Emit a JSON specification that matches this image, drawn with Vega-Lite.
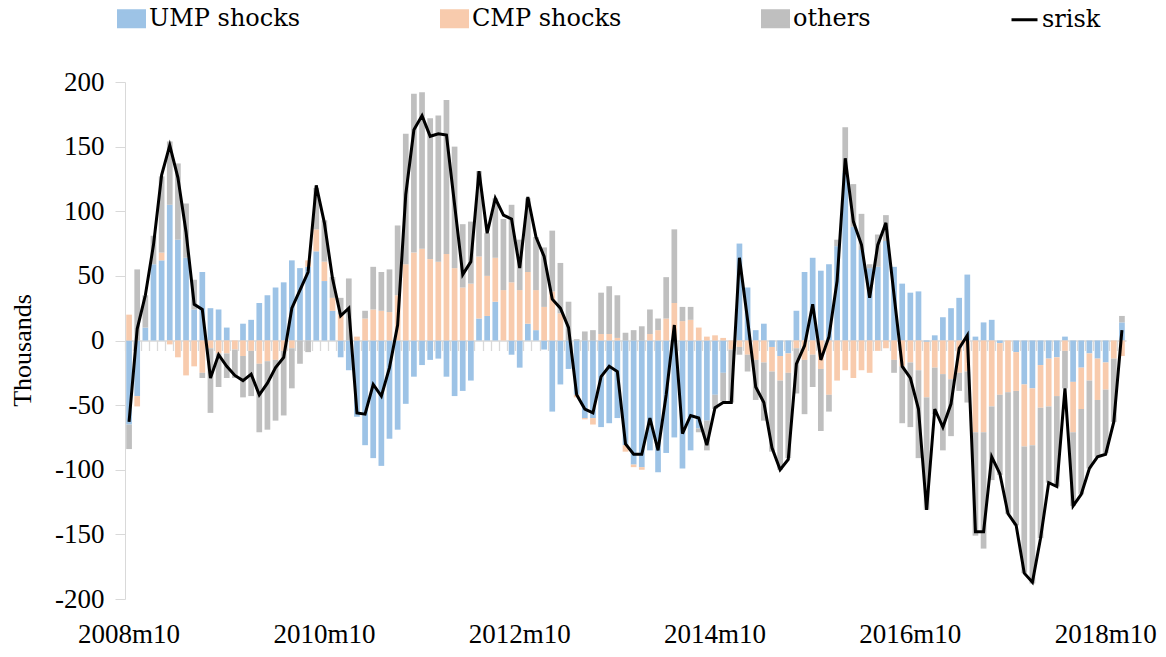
{
  "$schema": "https://vega.github.io/schema/vega-lite/v6.json",
  "width": 1001,
  "height": 517,
  "autosize": {"type": "none"},
  "padding": {"left": 125, "top": 82, "right": 40, "bottom": 58},
  "background": "white",
  "config": {
    "view": {"stroke": null},
    "font": "Liberation Serif"
  },
  "data": {
    "values": [
      {"m": "2008m10", "UMP shocks": -65, "CMP shocks": 20, "others": -19, "srisk": -63},
      {"m": "2008m11", "UMP shocks": -43, "CMP shocks": -8, "others": 55, "srisk": 9},
      {"m": "2008m12", "UMP shocks": 10, "CMP shocks": 0, "others": 25, "srisk": 35},
      {"m": "2009m1", "UMP shocks": 59, "CMP shocks": 0, "others": 22, "srisk": 74},
      {"m": "2009m2", "UMP shocks": 62, "CMP shocks": 6, "others": 59, "srisk": 128},
      {"m": "2009m3", "UMP shocks": 105, "CMP shocks": -3, "others": 49, "srisk": 151},
      {"m": "2009m4", "UMP shocks": 78, "CMP shocks": -13, "others": 59, "srisk": 126},
      {"m": "2009m5", "UMP shocks": 64, "CMP shocks": -27, "others": 42, "srisk": 84},
      {"m": "2009m6", "UMP shocks": 24, "CMP shocks": -20, "others": 23, "srisk": 28},
      {"m": "2009m7", "UMP shocks": 53, "CMP shocks": -25, "others": -4, "srisk": 24},
      {"m": "2009m8", "UMP shocks": 25, "CMP shocks": -6, "others": -50, "srisk": -29},
      {"m": "2009m9", "UMP shocks": 24, "CMP shocks": -10, "others": -26, "srisk": -11},
      {"m": "2009m10", "UMP shocks": 10, "CMP shocks": -10, "others": -19, "srisk": -20},
      {"m": "2009m11", "UMP shocks": 0, "CMP shocks": -7, "others": -22, "srisk": -27},
      {"m": "2009m12", "UMP shocks": 13, "CMP shocks": -12, "others": -32, "srisk": -31},
      {"m": "2010m1", "UMP shocks": 16, "CMP shocks": -8, "others": -35, "srisk": -26},
      {"m": "2010m2", "UMP shocks": 29, "CMP shocks": -18, "others": -53, "srisk": -42},
      {"m": "2010m3", "UMP shocks": 35, "CMP shocks": -16, "others": -53, "srisk": -33},
      {"m": "2010m4", "UMP shocks": 41, "CMP shocks": -15, "others": -47, "srisk": -21},
      {"m": "2010m5", "UMP shocks": 45, "CMP shocks": -8, "others": -50, "srisk": -13},
      {"m": "2010m6", "UMP shocks": 62, "CMP shocks": -6, "others": -31, "srisk": 25},
      {"m": "2010m7", "UMP shocks": 56, "CMP shocks": 0, "others": -18, "srisk": 39},
      {"m": "2010m8", "UMP shocks": 57, "CMP shocks": 5, "others": -9, "srisk": 53},
      {"m": "2010m9", "UMP shocks": 69, "CMP shocks": 17, "others": 32, "srisk": 120},
      {"m": "2010m10", "UMP shocks": 46, "CMP shocks": 15, "others": 32, "srisk": 91},
      {"m": "2010m11", "UMP shocks": 23, "CMP shocks": 10, "others": 16, "srisk": 48},
      {"m": "2010m12", "UMP shocks": -13, "CMP shocks": 20, "others": 13, "srisk": 19},
      {"m": "2011m1", "UMP shocks": -23, "CMP shocks": 0, "others": 48, "srisk": 25},
      {"m": "2011m2", "UMP shocks": -59, "CMP shocks": 3, "others": 0, "srisk": -56},
      {"m": "2011m3", "UMP shocks": -81, "CMP shocks": 17, "others": 6, "srisk": -57},
      {"m": "2011m4", "UMP shocks": -91, "CMP shocks": 24, "others": 33, "srisk": -34},
      {"m": "2011m5", "UMP shocks": -97, "CMP shocks": 23, "others": 30, "srisk": -43},
      {"m": "2011m6", "UMP shocks": -76, "CMP shocks": 22, "others": 33, "srisk": -21},
      {"m": "2011m7", "UMP shocks": -69, "CMP shocks": 35, "others": 54, "srisk": 12},
      {"m": "2011m8", "UMP shocks": -49, "CMP shocks": 59, "others": 101, "srisk": 113},
      {"m": "2011m9", "UMP shocks": -28, "CMP shocks": 68, "others": 123, "srisk": 163},
      {"m": "2011m10", "UMP shocks": -19, "CMP shocks": 71, "others": 121, "srisk": 174},
      {"m": "2011m11", "UMP shocks": -15, "CMP shocks": 63, "others": 109, "srisk": 158},
      {"m": "2011m12", "UMP shocks": -14, "CMP shocks": 61, "others": 113, "srisk": 160},
      {"m": "2012m1", "UMP shocks": -28, "CMP shocks": 67, "others": 119, "srisk": 159},
      {"m": "2012m2", "UMP shocks": -43, "CMP shocks": 56, "others": 94, "srisk": 105},
      {"m": "2012m3", "UMP shocks": -39, "CMP shocks": 41, "others": 49, "srisk": 51},
      {"m": "2012m4", "UMP shocks": -31, "CMP shocks": 44, "others": 48, "srisk": 61},
      {"m": "2012m5", "UMP shocks": 17, "CMP shocks": 48, "others": 66, "srisk": 131},
      {"m": "2012m6", "UMP shocks": 19, "CMP shocks": 31, "others": 33, "srisk": 83},
      {"m": "2012m7", "UMP shocks": 30, "CMP shocks": 34, "others": 46, "srisk": 110},
      {"m": "2012m8", "UMP shocks": 0, "CMP shocks": 39, "others": 55, "srisk": 97},
      {"m": "2012m9", "UMP shocks": -11, "CMP shocks": 45, "others": 60, "srisk": 94},
      {"m": "2012m10", "UMP shocks": -21, "CMP shocks": 39, "others": 39, "srisk": 56},
      {"m": "2012m11", "UMP shocks": 13, "CMP shocks": 40, "others": 57, "srisk": 111},
      {"m": "2012m12", "UMP shocks": 8, "CMP shocks": 31, "others": 41, "srisk": 80},
      {"m": "2013m1", "UMP shocks": -7, "CMP shocks": 26, "others": 46, "srisk": 65},
      {"m": "2013m2", "UMP shocks": -55, "CMP shocks": 38, "others": 47, "srisk": 32},
      {"m": "2013m3", "UMP shocks": -34, "CMP shocks": 21, "others": 39, "srisk": 25},
      {"m": "2013m4", "UMP shocks": -22, "CMP shocks": 0, "others": 30, "srisk": 10},
      {"m": "2013m5", "UMP shocks": -42, "CMP shocks": -2, "others": 1, "srisk": -42},
      {"m": "2013m6", "UMP shocks": -60, "CMP shocks": -1, "others": 7, "srisk": -53},
      {"m": "2013m7", "UMP shocks": -60, "CMP shocks": -5, "others": 8, "srisk": -56},
      {"m": "2013m8", "UMP shocks": -67, "CMP shocks": 5, "others": 32, "srisk": -28},
      {"m": "2013m9", "UMP shocks": -64, "CMP shocks": 5, "others": 37, "srisk": -20},
      {"m": "2013m10", "UMP shocks": -60, "CMP shocks": 2, "others": 33, "srisk": -24},
      {"m": "2013m11", "UMP shocks": -81, "CMP shocks": -5, "others": 6, "srisk": -80},
      {"m": "2013m12", "UMP shocks": -96, "CMP shocks": -2, "others": 8, "srisk": -88},
      {"m": "2014m1", "UMP shocks": -98, "CMP shocks": -2, "others": 11, "srisk": -88},
      {"m": "2014m2", "UMP shocks": -85, "CMP shocks": 5, "others": 19, "srisk": -60},
      {"m": "2014m3", "UMP shocks": -102, "CMP shocks": 8, "others": 9, "srisk": -85},
      {"m": "2014m4", "UMP shocks": -87, "CMP shocks": 17, "others": 32, "srisk": -42},
      {"m": "2014m5", "UMP shocks": -75, "CMP shocks": 29, "others": 57, "srisk": 12},
      {"m": "2014m6", "UMP shocks": -99, "CMP shocks": 15, "others": 11, "srisk": -72},
      {"m": "2014m7", "UMP shocks": -85, "CMP shocks": 16, "others": 10, "srisk": -58},
      {"m": "2014m8", "UMP shocks": -68, "CMP shocks": 10, "others": -3, "srisk": -60},
      {"m": "2014m9", "UMP shocks": -62, "CMP shocks": 3, "others": -23, "srisk": -81},
      {"m": "2014m10", "UMP shocks": -42, "CMP shocks": 4, "others": -11, "srisk": -52},
      {"m": "2014m11", "UMP shocks": -25, "CMP shocks": 2, "others": -22, "srisk": -48},
      {"m": "2014m12", "UMP shocks": 0, "CMP shocks": -7, "others": -41, "srisk": -48},
      {"m": "2015m1", "UMP shocks": 75, "CMP shocks": -5, "others": -6, "srisk": 64},
      {"m": "2015m2", "UMP shocks": 41, "CMP shocks": -11, "others": -13, "srisk": 16},
      {"m": "2015m3", "UMP shocks": 8, "CMP shocks": -15, "others": -31, "srisk": -36},
      {"m": "2015m4", "UMP shocks": 13, "CMP shocks": -17, "others": -45, "srisk": -48},
      {"m": "2015m5", "UMP shocks": -5, "CMP shocks": -19, "others": -62, "srisk": -83},
      {"m": "2015m6", "UMP shocks": -12, "CMP shocks": -19, "others": -69, "srisk": -100},
      {"m": "2015m7", "UMP shocks": -10, "CMP shocks": -15, "others": -66, "srisk": -92},
      {"m": "2015m8", "UMP shocks": 23, "CMP shocks": -6, "others": -35, "srisk": -18},
      {"m": "2015m9", "UMP shocks": 53, "CMP shocks": -15, "others": -42, "srisk": -4},
      {"m": "2015m10", "UMP shocks": 64, "CMP shocks": -11, "others": -25, "srisk": 28},
      {"m": "2015m11", "UMP shocks": 54, "CMP shocks": -22, "others": -48, "srisk": -15},
      {"m": "2015m12", "UMP shocks": 59, "CMP shocks": -42, "others": -13, "srisk": 3},
      {"m": "2016m1", "UMP shocks": 73, "CMP shocks": -31, "others": 5, "srisk": 46},
      {"m": "2016m2", "UMP shocks": 130, "CMP shocks": -23, "others": 35, "srisk": 141},
      {"m": "2016m3", "UMP shocks": 88, "CMP shocks": -29, "others": 33, "srisk": 92},
      {"m": "2016m4", "UMP shocks": 70, "CMP shocks": -23, "others": 28, "srisk": 74},
      {"m": "2016m5", "UMP shocks": 56, "CMP shocks": -25, "others": 3, "srisk": 33},
      {"m": "2016m6", "UMP shocks": 57, "CMP shocks": -8, "others": 25, "srisk": 74},
      {"m": "2016m7", "UMP shocks": 77, "CMP shocks": -6, "others": 20, "srisk": 91},
      {"m": "2016m8", "UMP shocks": 57, "CMP shocks": -15, "others": -10, "srisk": 35},
      {"m": "2016m9", "UMP shocks": 44, "CMP shocks": -20, "others": -44, "srisk": -20},
      {"m": "2016m10", "UMP shocks": 37, "CMP shocks": -17, "others": -50, "srisk": -29},
      {"m": "2016m11", "UMP shocks": 38, "CMP shocks": -23, "others": -68, "srisk": -53},
      {"m": "2016m12", "UMP shocks": -1, "CMP shocks": -43, "others": -87, "srisk": -131},
      {"m": "2017m1", "UMP shocks": 4, "CMP shocks": -21, "others": -36, "srisk": -53},
      {"m": "2017m2", "UMP shocks": 18, "CMP shocks": -26, "others": -59, "srisk": -67},
      {"m": "2017m3", "UMP shocks": 25, "CMP shocks": -30, "others": -44, "srisk": -49},
      {"m": "2017m4", "UMP shocks": 33, "CMP shocks": -25, "others": -14, "srisk": -6},
      {"m": "2017m5", "UMP shocks": 51, "CMP shocks": -24, "others": -24, "srisk": 4},
      {"m": "2017m6", "UMP shocks": 3, "CMP shocks": -71, "others": -80, "srisk": -148},
      {"m": "2017m7", "UMP shocks": 14, "CMP shocks": -71, "others": -90, "srisk": -148},
      {"m": "2017m8", "UMP shocks": 16, "CMP shocks": -51, "others": -57, "srisk": -90},
      {"m": "2017m9", "UMP shocks": -2, "CMP shocks": -40, "others": -62, "srisk": -103},
      {"m": "2017m10", "UMP shocks": 0, "CMP shocks": -40, "others": -94, "srisk": -134},
      {"m": "2017m11", "UMP shocks": -9, "CMP shocks": -30, "others": -104, "srisk": -143},
      {"m": "2017m12", "UMP shocks": -34, "CMP shocks": -48, "others": -98, "srisk": -180},
      {"m": "2018m1", "UMP shocks": -37, "CMP shocks": -44, "others": -107, "srisk": -187},
      {"m": "2018m2", "UMP shocks": -19, "CMP shocks": -33, "others": -101, "srisk": -153},
      {"m": "2018m3", "UMP shocks": -14, "CMP shocks": -37, "others": -59, "srisk": -110},
      {"m": "2018m4", "UMP shocks": -13, "CMP shocks": -30, "others": -70, "srisk": -113},
      {"m": "2018m5", "UMP shocks": 3, "CMP shocks": -8, "others": -29, "srisk": -37},
      {"m": "2018m6", "UMP shocks": -32, "CMP shocks": -39, "others": -57, "srisk": -128},
      {"m": "2018m7", "UMP shocks": -21, "CMP shocks": -32, "others": -66, "srisk": -119},
      {"m": "2018m8", "UMP shocks": -10, "CMP shocks": -21, "others": -68, "srisk": -99},
      {"m": "2018m9", "UMP shocks": -14, "CMP shocks": -32, "others": -44, "srisk": -90},
      {"m": "2018m10", "UMP shocks": -17, "CMP shocks": -21, "others": -49, "srisk": -88},
      {"m": "2018m11", "UMP shocks": 0, "CMP shocks": -14, "others": -49, "srisk": -63},
      {"m": "2018m12", "UMP shocks": 14, "CMP shocks": -12, "others": 5, "srisk": 8}
    ]
  },
  "layer": [
    {
      "transform": [{"fold": ["UMP shocks", "CMP shocks", "others"], "as": ["series", "value"]}],
      "mark": {"type": "bar"},
      "encoding": {
        "x": {
          "field": "m",
          "type": "ordinal",
          "sort": null,
          "scale": {"paddingInner": 0.3, "paddingOuter": 0.15},
          "axis": {
            "title": null,
            "orient": "bottom",
            "offset": -258.5,
            "domainColor": "#d9d9d9",
            "domainWidth": 1.5,
            "tickColor": "#d9d9d9",
            "tickSize": 10,
            "tickWidth": 1.3,
            "bandPosition": -0.21,
            "labelOffset": 0,
            "labelAngle": 0,
            "labelOverlap": false,
            "labelPadding": 271,
            "labelBaseline": "top",
            "labelFont": "Liberation Serif",
            "labelFontSize": 27,
            "labelColor": "black",
            "labelExpr": "indexof(['2008m10','2010m10','2012m10','2014m10','2016m10','2018m10'], datum.value) >= 0 ? datum.value : ''"
          }
        },
        "y": {
          "field": "value",
          "type": "quantitative",
          "stack": "zero",
          "scale": {"domain": [-200, 200], "nice": false},
          "axis": {
            "title": "Thousands",
            "values": [-200, -150, -100, -50, 0, 50, 100, 150, 200],
            "grid": false,
            "domainColor": "#d9d9d9",
            "domainWidth": 1,
            "tickColor": "#d9d9d9",
            "tickSize": 10,
            "labelPadding": 11,
            "labelFont": "Liberation Serif",
            "labelFontSize": 27,
            "labelColor": "black",
            "labelExpr": "datum.value < 0 ? '-' + abs(datum.value) : '' + datum.value",
            "titleFont": "Liberation Serif",
            "titleFontSize": 26,
            "titleFontWeight": "normal",
            "titleColor": "black",
            "titleX": -103,
            "titleY": 268,
            "titleAngle": 270,
            "titleAlign": "center",
            "titleBaseline": "middle"
          }
        },
        "color": {
          "field": "series",
          "type": "nominal",
          "scale": {
            "domain": ["UMP shocks", "CMP shocks", "others", "srisk"],
            "range": ["#9dc3e6", "#f8cbad", "#bfbfbf", "#000000"]
          },
          "legend": {
            "title": null,
            "orient": "none",
            "legendX": -8,
            "legendY": -78,
            "direction": "horizontal",
            "columns": 4,
            "gridAlign": "each",
            "columnPadding": 134,
            "padding": 0,
            "symbolType": "M-1,-0.62H1V0.62H-1Z",
            "symbolSize": 676,
            "labelOffset": 3,
            "labelFont": "DejaVu Serif",
            "labelFontSize": 24,
            "labelColor": "black",
            "labelLimit": 400,
            "encode": {
              "symbols": {
                "update": {
                  "shape": {"signal": "datum.label === 'srisk' ? 'stroke' : 'M-1,-0.62H1V0.62H-1Z'"},
                  "fill": {"signal": "datum.label === 'srisk' ? 'transparent' : scale('color', datum.value)"},
                  "stroke": {"signal": "datum.label === 'srisk' ? '#000000' : 'transparent'"},
                  "strokeWidth": {"value": 3},
                  "opacity": {"value": 1}
                }
              }
            }
          }
        },
        "order": {"field": "m", "type": "ordinal"}
      }
    },
    {
      "mark": {"type": "line", "strokeWidth": 3},
      "encoding": {
        "x": {"field": "m", "type": "ordinal", "sort": null, "title": null},
        "y": {"field": "srisk", "type": "quantitative", "title": "Thousands"},
        "color": {"datum": "srisk"}
      }
    }
  ]
}
